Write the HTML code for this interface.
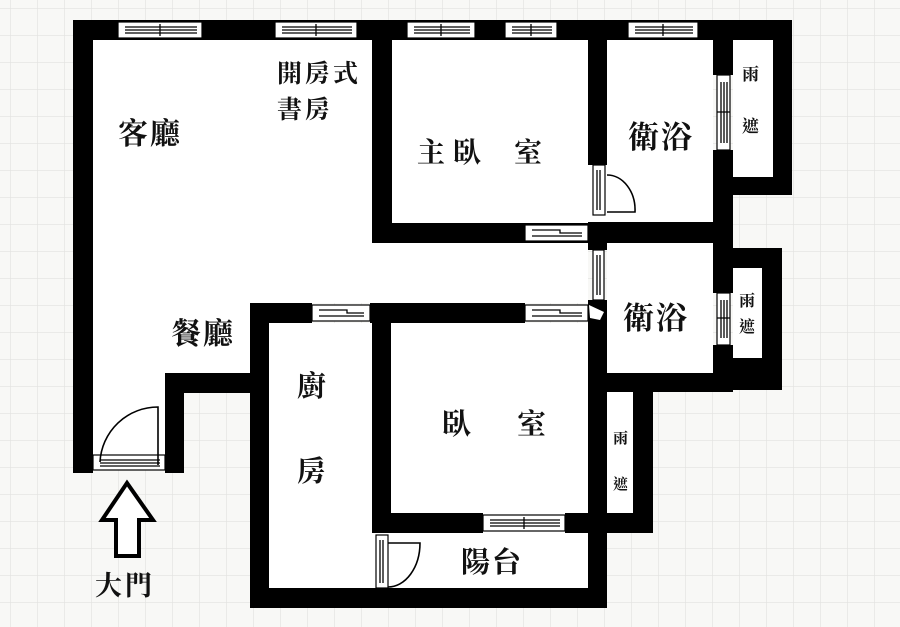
<!DOCTYPE html>
<html><head><meta charset="utf-8"><style>
html,body{margin:0;padding:0;width:900px;height:627px;overflow:hidden;background:#f8f8f6}
svg{display:block}
text{font-family:"Liberation Serif","Noto Serif CJK TC","Noto Serif CJK SC",serif;font-weight:700;fill:#111}
</style></head><body>
<svg width="900" height="627" viewBox="0 0 900 627" xmlns="http://www.w3.org/2000/svg">
<defs>
<pattern id="g" width="27" height="27" patternUnits="userSpaceOnUse" x="10" y="8">
<rect width="27" height="27" fill="#f8f8f6"/>
<path d="M0 0H27M0 0V27" stroke="#e2e2e0" stroke-width="1.2" fill="none"/>
</pattern>
</defs>
<rect width="900" height="627" fill="url(#g)"/>
<g fill="#fff">
<rect x="93" y="40" width="620" height="183"/>
<rect x="93" y="223" width="495" height="80"/>
<rect x="93" y="303" width="157" height="70"/>
<rect x="93" y="373" width="72" height="97"/>
<rect x="269" y="323" width="319" height="265"/>
<rect x="733" y="40" width="40" height="137"/>
<rect x="607" y="243" width="106" height="130"/>
<rect x="733" y="268" width="29" height="90"/>
<rect x="607" y="392" width="26" height="121"/>
</g>
<g fill="#000">
<rect x="73" y="20" width="719" height="20"/>
<rect x="73" y="20" width="20" height="453"/>
<rect x="372" y="20" width="20" height="223"/>
<rect x="372" y="223" width="216" height="20"/>
<rect x="588" y="20" width="19" height="145"/>
<rect x="588" y="222" width="19" height="28"/>
<rect x="607" y="222" width="126" height="21"/>
<rect x="713" y="20" width="20" height="55"/>
<rect x="713" y="150" width="20" height="143"/>
<rect x="713" y="345" width="20" height="47"/>
<rect x="773" y="20" width="19" height="175"/>
<rect x="733" y="177" width="59" height="18"/>
<rect x="733" y="248" width="49" height="20"/>
<rect x="762" y="248" width="20" height="142"/>
<rect x="733" y="358" width="49" height="32"/>
<rect x="588" y="373" width="145" height="19"/>
<rect x="588" y="300" width="19" height="308"/>
<rect x="250" y="303" width="62" height="20"/>
<rect x="370" y="303" width="155" height="20"/>
<rect x="165" y="373" width="85" height="20"/>
<rect x="165" y="373" width="19" height="100"/>
<rect x="250" y="303" width="19" height="305"/>
<rect x="250" y="588" width="357" height="20"/>
<rect x="372" y="303" width="19" height="230"/>
<rect x="372" y="513" width="111" height="20"/>
<rect x="565" y="513" width="88" height="20"/>
<rect x="633" y="373" width="20" height="160"/>
<rect x="607" y="373" width="46" height="19"/>
</g>
<g fill="#fff" stroke="#000" stroke-width="1.2">
<rect x="118" y="22" width="84" height="16"/>
<rect x="275" y="22" width="82" height="16"/>
<rect x="407" y="22" width="68" height="16"/>
<rect x="505" y="22" width="52" height="16"/>
<rect x="628" y="22" width="70" height="16"/>
<rect x="525" y="225" width="63" height="16"/>
<rect x="312" y="305" width="58" height="16"/>
<rect x="525" y="305" width="63" height="16"/>
<rect x="483" y="515" width="82" height="16"/>
<rect x="717" y="75" width="13" height="75"/>
<rect x="717" y="293" width="13" height="52"/>
<rect x="593" y="250" width="11" height="50"/>
<rect x="593" y="165" width="12" height="50"/>
<rect x="93" y="455" width="72" height="15"/>
<rect x="376" y="535" width="12" height="53"/>
</g>
<g stroke="#000" stroke-width="1.3" fill="none">
<path d="M125 27H197M125 30H197M125 33H197M160 24V36"/>
<path d="M282 27H352M282 30H352M282 33H352M316 24V36"/>
<path d="M414 27H470M414 30H470M414 33H470M441 24V36"/>
<path d="M512 27H552M512 30H552M512 33H552M531 24V36"/>
<path d="M635 27H693M635 30H693M635 33H693M663 24V36"/>
<path d="M532 230H560V233H582M532 236H582"/>
<path d="M319 310H347V313H364M319 316H364"/>
<path d="M532 310H560V313H582M532 316H582"/>
<path d="M490 520H560M490 523H560M490 526H560M524 517V529"/>
<path d="M721 82V143M724 82V143M727 82V143M717 112H730"/>
<path d="M721 300V338M724 300V338M727 300V338M717 318H730"/>
<path d="M597 255V295M600 255V295"/>
<path d="M597 170V210M600 170V210"/>
<path d="M100 460H160M100 463H160M100 466H160"/>
<path d="M380 540V583M383 540V583"/>
<path d="M158 465V407A58 58 0 0 0 100 462" stroke-width="1.6"/>
<path d="M607 212H635A28 35 0 0 0 607 175" stroke-width="1.6"/>
<path d="M388 543H420A32 44 0 0 1 388 587" stroke-width="1.6"/>
</g>
<path d="M589 305L604 312L600 320L590 318Z" fill="#fff"/>
<path d="M127 483L102 520H116V556H139V520H153Z" fill="#fff" stroke="#000" stroke-width="4" stroke-linejoin="miter"/>
<text x="118" y="144" font-size="30" letter-spacing="2">客廳</text>
<text x="277" y="82" font-size="25" letter-spacing="3">開房式</text>
<text x="277" y="118" font-size="25" letter-spacing="3">書房</text>
<text x="417" y="162" font-size="28" letter-spacing="8">主臥</text>
<text x="514" y="162" font-size="28">室</text>
<text x="628" y="148" font-size="31" letter-spacing="2">衛浴</text>
<text x="742" y="80" font-size="17">雨</text>
<text x="742" y="132" font-size="17">遮</text>
<text x="623" y="329" font-size="31" letter-spacing="2">衛浴</text>
<text x="739" y="306" font-size="16">雨</text>
<text x="739" y="332" font-size="16">遮</text>
<text x="171" y="344" font-size="30" letter-spacing="2">餐廳</text>
<text x="297" y="396" font-size="29">廚</text>
<text x="297" y="481" font-size="29">房</text>
<text x="442" y="434" font-size="29">臥</text>
<text x="517" y="434" font-size="29">室</text>
<text x="613" y="443" font-size="15">雨</text>
<text x="613" y="489" font-size="15">遮</text>
<text x="461" y="572" font-size="29" letter-spacing="2">陽台</text>
<text x="95" y="595" font-size="27" letter-spacing="3">大門</text>
</svg>
</body></html>
